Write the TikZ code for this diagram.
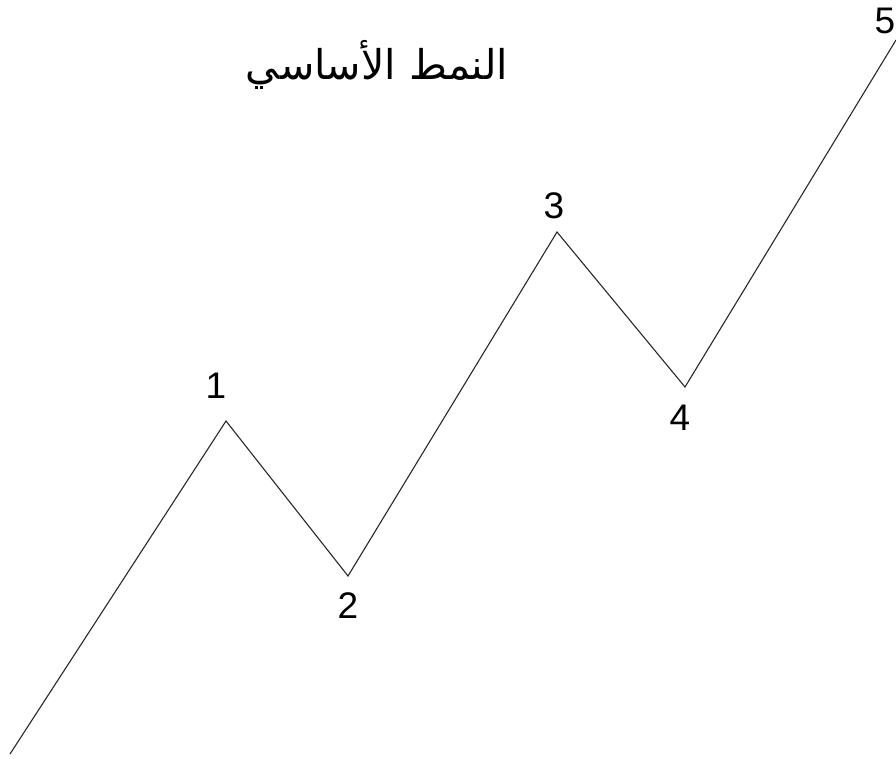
\documentclass[tikz,border=0pt]{standalone}
\usepackage{fontspec}
\setmainfont{Liberation Sans}
\newfontfamily\arabicfont[Script=Arabic]{DejaVu Sans}
\TeXXeTstate=1
\usepackage{tikz}
\usetikzlibrary{positioning}
\definecolor{mydark}{RGB}{40,40,40}
\tikzset{
  wave/.style={line width=1.1pt, color=mydark, line join=miter},
  wavelabel/.style={font=\fontsize{37}{40}\selectfont, inner sep=0pt, anchor=center},
  titlelabel/.style={font=\arabicfont\fontsize{41}{46}\selectfont, inner sep=0pt, anchor=base}
}
\begin{document}
\begin{tikzpicture}[x=1pt, y=-1pt]
  \useasboundingbox (0,0) rectangle (896,758);

  % wave points
  \coordinate (w0) at (10,754);
  \coordinate (w1) at (226,421);
  \coordinate (w2) at (348,576);
  \coordinate (w3) at (557,232);
  \coordinate (w4) at (685,387);
  \coordinate (w5) at (896,40);

  % the impulse wave
  \draw[wave] (w0) -- (w1) -- (w2) -- (w3) -- (w4) -- (w5);

  % wave numbers
  \node[wavelabel] (lab1) at (216,386) {1};
  \node[wavelabel] (lab2) at (348,606) {2};
  \node[wavelabel] (lab3) at (554,206) {3};
  \node[wavelabel] (lab4) at (680,418) {4};
  \node[wavelabel] (lab5) at (885,21) {5};

  % title
  \node[titlelabel] (title) at (377,79) {\beginR النمط الأساسي\endR};
\end{tikzpicture}
\end{document}
